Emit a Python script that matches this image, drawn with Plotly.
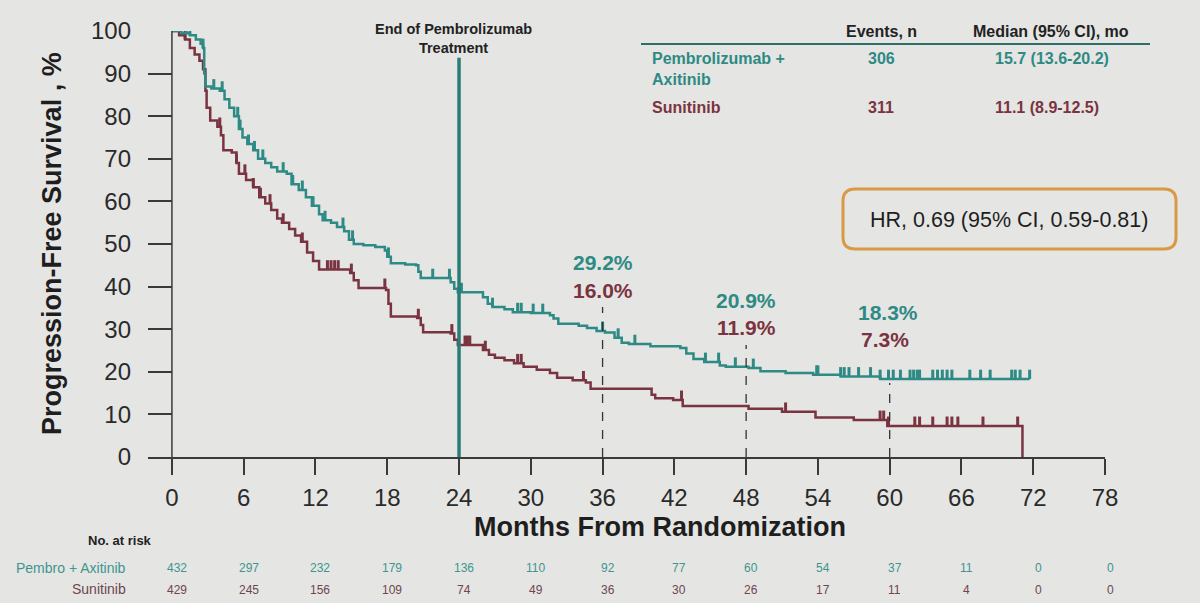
import plotly.graph_objects as go

# ---------------- data ----------------
pembro_t = [0, 0.8, 1.5, 2.0, 2.4, 2.6, 2.7, 2.8, 3.3, 4.0, 4.4, 4.8, 5.2, 5.6, 5.9, 6.3, 6.8, 7.2, 7.8,
            8.3, 8.8, 9.6, 10.0, 10.6, 11.2, 11.7, 12.3, 12.6, 13.3, 13.8, 14.4, 14.8, 15.2, 16.0, 17.0,
            17.8, 18.0, 18.3, 19.5, 20.4, 20.6, 20.8, 23.3, 23.6, 23.9, 26.0, 26.4, 26.8, 27.8, 28.5,
            30.0, 31.6, 31.9, 32.3, 34.0, 34.7, 35.5, 36.2, 37.0, 37.6, 38.2, 40.0, 42.5, 43.0, 43.6,
            44.5, 45.8, 46.3, 48.2, 49.2, 51.3, 53.6, 55.9, 59.2, 71.7]
pembro_s = [100, 99.5, 99, 98, 97, 96, 90, 87, 86.5, 86, 84, 82, 80, 77, 75, 73.5, 72, 70, 69,
            68, 67, 66.5, 64, 62.7, 61, 59, 57, 55.6, 55, 54, 53, 51, 50, 49.7, 49.3,
            48.5, 47, 45.5, 45.2, 45, 43.5, 42, 41, 39.5, 38.7, 37.5, 36, 35.2, 34.7, 34,
            33.8, 33.3, 32.5, 31.3, 30.8, 30.3, 29.6, 29.2, 28, 26.8, 26.5, 26, 25.6, 24.3, 23,
            22.3, 21.5, 21.2, 20.9, 20.1, 19.7, 19.3, 18.9, 18.3, 18.3]

suni_t = [0, 0.6, 1.1, 1.5, 1.9, 2.3, 2.6, 2.8, 2.9, 3.2, 3.8, 4.1, 4.3, 5.0, 5.4, 5.6, 6.2, 6.8, 7.3,
          7.8, 8.3, 8.8, 9.2, 9.8, 10.3, 10.8, 11.3, 11.8, 12.3, 14.9, 15.2, 15.6, 17.9, 18.1, 18.3,
          20.5, 20.8, 21.0, 23.3, 23.6, 23.9, 26.0, 26.5, 27.0, 27.8, 28.6, 29.4, 30.5, 31.6, 32.2,
          33.5, 34.6, 35.0, 40.1, 40.4, 41.9, 42.7, 48.2, 51.0, 53.8, 57.0, 59.8, 71.1]
suni_s = [100, 99, 98, 96, 94.5, 93, 91, 86, 82, 79, 77.5, 75.5, 72, 71.5, 69, 66.5, 65, 63.3, 61,
          59.5, 58, 56, 55, 53.5, 52, 50.5, 48, 46, 44, 43.2, 41.5, 39.7, 39.2, 36, 33,
          32.6, 31, 29.3, 29, 27.5, 26.3, 25.1, 24, 23.3, 22.7, 22, 21.2, 20.5, 19.7, 18.6,
          18, 17.5, 16.0, 14.6, 13.8, 13.4, 12.0, 11.3, 10.6, 9.3, 8.7, 7.3, 0]

pembro_cens = [0.05, 1.2, 1.5, 2.6, 3.5, 4.2, 5.5, 5.7, 6.4, 6.9, 7.6, 9.3, 10.1, 10.9, 11.8, 12.8, 14.3,
               15.1, 18.1, 21.8, 23.2, 24.2, 26.8, 28.9, 29.2, 30.2, 31.0, 36.0, 37.3, 38.7, 44.6,
               45.7, 47.1, 48.6, 53.9, 54.0, 55.9, 56.2, 56.6, 57.4, 58.4, 59.2, 59.9, 60.3, 60.9,
               61.7, 62.0, 62.3, 62.5, 63.6, 64.0, 64.4, 64.8, 65.2, 66.7, 67.6, 68.4, 70.2, 70.5,
               70.9, 71.7]
suni_cens = [1.1, 4.0, 5.4, 6.1, 6.8, 7.4, 8.2, 9.3, 10.9, 13.0, 13.3, 13.6, 13.9, 15.0, 17.8, 20.6,
             23.4, 24.5, 24.7, 24.9, 26.2, 28.9, 29.2, 34.4, 42.6, 51.3, 59.2, 59.5, 59.9, 62.1,
             62.5, 63.6, 64.8, 65.2, 65.7, 67.8, 70.7]

landmarks = [36, 48, 60]
landmark_pembro = ["29.2%", "20.9%", "18.3%"]
landmark_suni = ["16.0%", "11.9%", "7.3%"]

risk_times = [0, 6, 12, 18, 24, 30, 36, 42, 48, 54, 60, 66, 72, 78]
risk_pembro = [432, 297, 232, 179, 136, 110, 92, 77, 60, 54, 37, 11, 0, 0]
risk_suni = [429, 245, 156, 109, 74, 49, 36, 30, 26, 17, 11, 4, 0, 0]

x_ticks = list(range(0, 79, 6))
y_ticks = list(range(0, 101, 10))

# ---------------- style ----------------
TEAL = "#2E8A84"
MAROON = "#7A3340"
BG = "#E5E5E3"
AX = "#3A3A3A"
FONT = "Liberation Sans, Arial, sans-serif"


def step_value(ts, ss, c):
    v = ss[0]
    for t, s in zip(ts, ss):
        if t <= c:
            v = s
        else:
            break
    return v


def censor_xy(ts, ss, cens, h=2.2):
    xs, ys = [], []
    for c in cens:
        v = step_value(ts, ss, c)
        xs += [c, c, None]
        ys += [v, v + h, None]
    return xs, ys


fig = go.Figure()

fig.add_trace(go.Scatter(x=suni_t, y=suni_s, mode="lines", line=dict(color=MAROON, width=2.5, shape="hv"),
                         cliponaxis=False, showlegend=False))
cx, cy = censor_xy(suni_t, suni_s, suni_cens)
fig.add_trace(go.Scatter(x=cx, y=cy, mode="lines", line=dict(color=MAROON, width=3),
                         cliponaxis=False, showlegend=False))

fig.add_trace(go.Scatter(x=pembro_t, y=pembro_s, mode="lines", line=dict(color=TEAL, width=2.5, shape="hv"),
                         cliponaxis=False, showlegend=False))
cx, cy = censor_xy(pembro_t, pembro_s, pembro_cens)
fig.add_trace(go.Scatter(x=cx, y=cy, mode="lines", line=dict(color=TEAL, width=3),
                         cliponaxis=False, showlegend=False))

shapes = []
# y axis line
shapes.append(dict(type="line", xref="x", yref="y", x0=0, x1=0, y0=0, y1=100,
                   line=dict(color=AX, width=1.5)))
# end of pembrolizumab treatment line
shapes.append(dict(type="line", xref="x", yref="y", x0=24, x1=24, y0=0, y1=93.7,
                   line=dict(color="#2A7C78", width=3.5)))
# landmark dashed lines
dash_tops = [35.2, 26.3, 17.4]
for lm, top in zip(landmarks, dash_tops):
    shapes.append(dict(type="line", xref="x", yref="y", x0=lm, x1=lm, y0=0, y1=top,
                       line=dict(color="#333333", width=1.3, dash="dash")))

W, H = 957.0, 426.0
def px(xp):
    return (xp - 148) / W
def py(yp):
    return (457 - yp) / H

# table header underline
shapes.append(dict(type="line", xref="paper", yref="paper", x0=px(641), x1=px(1150), y0=py(44), y1=py(44),
                   line=dict(color="#2E6E6C", width=2)))

# HR rounded box
x0, x1, y0, y1 = px(843), px(1176), py(249), py(189)
rx, ry = 12 / W, 12 / H
path = (f"M {x0+rx},{y0} L {x1-rx},{y0} Q {x1},{y0} {x1},{y0+ry} L {x1},{y1-ry} Q {x1},{y1} {x1-rx},{y1} "
        f"L {x0+rx},{y1} Q {x0},{y1} {x0},{y1-ry} L {x0},{y0+ry} Q {x0},{y0} {x0+rx},{y0} Z")
shapes.append(dict(type="path", xref="paper", yref="paper", path=path,
                   line=dict(color="#D89A45", width=3), fillcolor="rgba(0,0,0,0)"))

ann = []
def A(text, x, y, size, color, bold=False, xanchor="center", xref="paper", yref="paper", **kw):
    if bold:
        text = f"<b>{text}</b>"
    ann.append(dict(text=text, x=x, y=y, xref=xref, yref=yref, showarrow=False, xanchor=xanchor,
                    yanchor="middle", font=dict(family=FONT, size=size, color=color), **kw))

# axis titles
A("Months From Randomization", px(660), py(527), 27, "#1E1E1E", bold=True)
A("Progression-Free Survival , %", px(52), py(244), 27, "#1E1E1E", bold=True, textangle=-90)

# end of treatment label
A("End of Pembrolizumab<br>Treatment", px(453), py(38), 14.5, "#222222", bold=True)

# landmark labels
pem_lab_xy = [(603, 262), (746, 300), (888, 312)]
sun_lab_xy = [(603, 290), (746, 327), (885, 340)]
for t, (xp, yp) in zip(landmark_pembro, pem_lab_xy):
    A(t, px(xp), py(yp), 21, TEAL, bold=True)
for t, (xp, yp) in zip(landmark_suni, sun_lab_xy):
    A(t, px(xp), py(yp), 21, MAROON, bold=True)

# table
TS = 16
A("Events, n", px(881), py(31), TS, "#222222", bold=True)
A("Median (95% CI), mo", px(1051), py(31), TS, "#222222", bold=True)
A("Pembrolizumab +<br>Axitinib", px(650), py(69), TS, TEAL, bold=True, xanchor="left", align="left")
A("306", px(881), py(59), TS, TEAL, bold=True)
A("15.7 (13.6-20.2)", px(1052), py(59), TS, TEAL, bold=True)
A("Sunitinib", px(650), py(107), TS, MAROON, bold=True, xanchor="left")
A("311", px(881), py(107), TS, MAROON, bold=True)
A("11.1 (8.9-12.5)", px(1047), py(107), TS, MAROON, bold=True)

# HR
A("HR, 0.69 (95% CI, 0.59-0.81)", px(1009), py(220), 21.5, "#1E1E1E")

# number at risk
A("No. at risk", px(120), py(540), 13, "#222222", bold=True)
A("Pembro + Axitinib", px(128), py(568), 14, "#3E9590", xanchor="right")
A("Sunitinib", px(128), py(589), 14, "#6E4550", xanchor="right")
for t, a, b in zip(risk_times, risk_pembro, risk_suni):
    A(str(a), t, py(568), 12, "#3E9590", xref="x", xshift=5)
    A(str(b), t, py(590), 12, "#6E4550", xref="x", xshift=5)

fig.update_layout(
    width=1200, height=603,
    margin=dict(l=148, r=95, t=31, b=146),
    paper_bgcolor=BG, plot_bgcolor=BG,
    shapes=shapes, annotations=ann,
    showlegend=False,
    font=dict(family=FONT, color="#2A2A2A"),
    xaxis=dict(range=[-2, 78], tickvals=x_ticks, ticks="outside", ticklen=16, tickwidth=1.5,
               tickcolor=AX, showline=True, linecolor=AX, linewidth=1.5, showgrid=False,
               zeroline=False, tickfont=dict(size=24, color="#2A2A2A", family=FONT),
               ticklabelstandoff=2),
    yaxis=dict(range=[0, 100], tickvals=y_ticks, ticks="inside", ticklen=24, tickwidth=1.5,
               tickcolor=AX, showline=False, showgrid=False, zeroline=False,
               tickfont=dict(size=24, color="#2A2A2A", family=FONT), ticklabelstandoff=16),
)

fig.write_html("out.html")
